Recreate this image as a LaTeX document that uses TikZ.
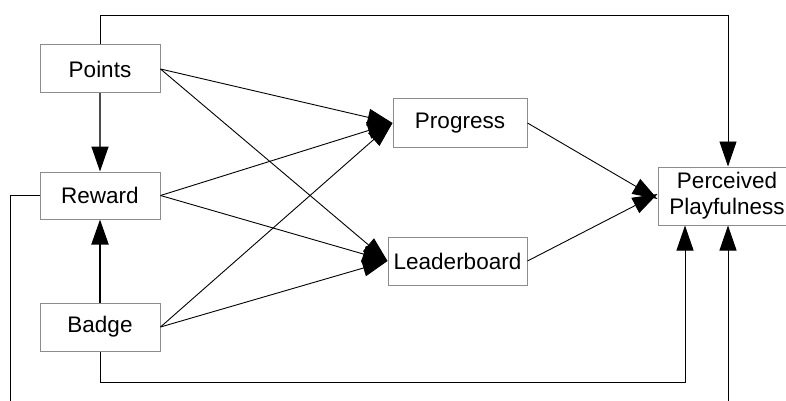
\documentclass[tikz,border=0pt]{standalone}
\usepackage{fontspec}
\setmainfont{Liberation Sans}
\usetikzlibrary{arrows.meta,calc}
\begin{document}
\begin{tikzpicture}[x=1pt,y=-1pt,
  box/.style={draw=black!45,line width=1pt,fill=white,inner sep=0pt,align=center,
    font=\fontsize{22.5}{26}\selectfont},
  arr/.style={-{Triangle[length=25pt,width=17pt,black]},line width=0.9pt,black},
  conn/.style={line width=0.9pt,black}]
\useasboundingbox (0,0) rectangle (786,401);
\fill[white] (0,0) rectangle (786,401);
\clip (0,0) rectangle (786,401);
\node[box,minimum width=120pt,minimum height=48pt] (points) at (100,69) {Points};
\node[box,minimum width=120pt,minimum height=47pt] (reward) at (100,195.5) {Reward};
\node[box,minimum width=120pt,minimum height=48pt] (badge) at (100,327) {Badge};
\node[box,minimum width=134pt,minimum height=48pt] (progress) at (460,123) {Progress};
\node[box,minimum width=139pt,minimum height=48pt] (leader) at (457.5,261) {Leaderboard};
\node[box,minimum width=138pt,minimum height=58pt] (perc) at (727,196) {Perceived\\Playfulness};
% connectors from left column
\draw[arr] (points.east) -- (progress.west);
\draw[arr] (points.east) -- (leader.west);
\draw[arr] (reward.east) -- (progress.west);
\draw[arr] (reward.east) -- (leader.west);
\draw[arr] (badge.east) -- (progress.west);
\draw[arr] (badge.east) -- (leader.west);
\draw[arr] (progress.east) -- ([yshift=-3pt]perc.west);
\draw[arr] (leader.east) -- ([yshift=2pt]perc.west);
\draw[arr,line width=1.5pt,draw=black!70] (points.south) -- (reward.north);
\draw[arr,line width=2pt] (badge.north) -- (reward.south);
% routed connectors
\coordinate (top) at (100,15);
\draw[arr] (points.north) -- (top) -| ([xshift=1pt]perc.north);
\coordinate (bot) at (100,382);
\draw[arr] (badge.south) -- (bot) -| ([xshift=-42pt]perc.south);
\coordinate (lft) at (10,430);
\draw[arr] (reward.west) -| (lft) -| ([xshift=1pt]perc.south);
\end{tikzpicture}
\end{document}
